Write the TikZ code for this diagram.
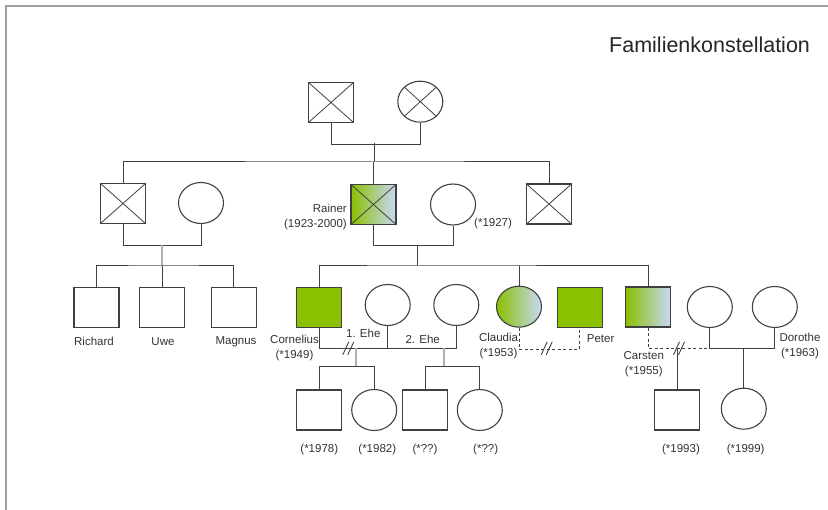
\documentclass[tikz,border=0pt]{standalone}
\usepackage{fontspec}
\setmainfont{Liberation Sans}
\usetikzlibrary{shapes.geometric}
\definecolor{ln}{HTML}{404040}
\definecolor{grn}{HTML}{8AC000}
\definecolor{blu}{HTML}{C8D8F8}
\definecolor{gline}{HTML}{B0B0B0}
\definecolor{txt}{HTML}{333333}
\definecolor{frame}{HTML}{A0A0A0}
\tikzset{
 person/.style={draw=ln, line width=1.1pt, inner sep=0pt},
 male/.style={person, rectangle, minimum width=45pt, minimum height=40pt},
 female/.style={person, ellipse, minimum width=45pt, minimum height=41pt},
 deceased/.style={path picture={\draw[ln, line width=0.8pt] (path picture bounding box.north west) -- (path picture bounding box.south east) (path picture bounding box.north east) -- (path picture bounding box.south west);}},
 affected/.style={fill=grn},
 partial/.style={left color=grn, right color=blu},
 conn/.style={draw=ln, line width=1pt},
 gconn/.style={draw=gline, line width=1.3pt},
 sep/.style={conn, dash pattern=on 3pt off 2.5pt},
 lbl/.style={text=txt, font=\fontsize{11.5}{15}\selectfont, inner sep=0pt, align=center},
 divorce/.pic={\draw[ln, line width=0.9pt] (-5.5,6.5) -- (0.5,-6.5) (-0.5,6.5) -- (5.5,-6.5);}
}
\begin{document}
\begin{tikzpicture}[x=1pt,y=-1pt]
\useasboundingbox (0,0) rectangle (828,510);
\draw[frame, line width=1.5pt] (6,510) -- (6,6) -- (828,6);
\node[font=\fontsize{21.5}{24}\selectfont, text=black!85, anchor=west, inner sep=0pt] (title) at (609,45) {Familienkonstellation};

% generation 1
\node[male,deceased] (gf) at (331,102.5) {};
\node[female,deceased] (gm) at (420.3,101.7) {};
\draw[conn] (gf.south) -- ++(0,21) -| (gm.south);
\coordinate (m1) at (374,143.5);
\coordinate (s1) at (374,162);
\draw[conn, line width=0.8pt] (m1) -- (s1);

% generation 2
\node[male,deceased] (u1) at (123,203.5) {};
\node[female] (a1) at (201,203) {};
\node[male,deceased,partial] (rainer) at (373.5,204.5) {};
\node[female] (wr) at (453,204.5) {};
\node[male,deceased] (u2) at (549,204) {};
\draw[conn] (u1.north) |- (s1) -| (u2.north);
\draw[conn] (rainer.north) -- (rainer.north |- s1);
\node[lbl, align=right, anchor=east] (rainerlbl) at (347,217) {Rainer\\(1923-2000)};
\node[lbl, anchor=west] (wrlbl) at (474,224) {(*1927)};

\draw[conn] (u1.south) -- ++(0,21.5) -| (a1.south);
\coordinate (m2) at (162,245);
\coordinate (s2) at (162,266);
\draw[gconn] (m2) -- (s2);
\draw[conn] (rainer.south) -- ++(0,20.5) -| (wr.south);
\coordinate (m3) at (417.3,245);
\coordinate (s3) at (417.3,266);
\draw[conn] (m3) -- (s3);

% generation 3 (cousins)
\node[male] (richard) at (96.5,307.3) {};
\node[male] (uwe) at (162,307.3) {};
\node[male] (magnus) at (233.7,307.3) {};
\draw[conn] (richard.north) |- (s2) -| (magnus.north);
\draw[conn] (uwe.north) -- (uwe.north |- s2);
\node[lbl] (richardlbl) at (94,341.7) {Richard};
\node[lbl] (uwelbl) at (163,341.7) {Uwe};
\node[lbl] (magnuslbl) at (236,341.7) {Magnus};

% generation 3 (Rainer's children)
\node[male,affected] (cornelius) at (319,307.3) {};
\node[female] (w1) at (387.7,305) {};
\node[female] (w2) at (456.3,305) {};
\node[female,partial] (claudia) at (519,306.7) {};
\node[male,affected] (peter) at (579.7,307.3) {};
\node[male,partial] (carsten) at (648.2,307) {};
\node[female] (p2) at (709.8,307) {};
\node[female] (dorothe) at (774.8,307) {};
\draw[conn] (cornelius.north) |- (s3) -| (carsten.north);
\draw[conn] (claudia.north) -- (claudia.north |- s3);

\node[lbl] (corlbl) at (294.5,348.5) {Cornelius\\(*1949)};
\node[lbl] (ehe1) at (363.3,333.3) {1. Ehe};
\node[lbl] (ehe2) at (422.7,339) {2. Ehe};
\node[lbl] (clalbl) at (498.5,346.5) {Claudia\\(*1953)};
\node[lbl, anchor=west] (peterlbl) at (586.7,339) {Peter};
\node[lbl] (carlbl) at (643.8,364) {Carsten\\(*1955)};
\node[lbl] (dorlbl) at (800,346.5) {Dorothe\\(*1963)};

% Cornelius marriages
\draw[conn] (cornelius.south) -- ++(0,21) -| (w2.south);
\coordinate (e1) at (388,348.3);
\draw[conn] (w1.south) -- (w1.south |- e1);
\pic at (348.3,348.3) {divorce};
\coordinate (m4) at (356,348.3);
\coordinate (s4) at (356,366.7);
\draw[gconn] (m4) -- (s4);
\coordinate (m5) at (444,348.3);
\coordinate (s5) at (444,366.7);
\draw[gconn] (m5) -- (s5);

% Claudia - Peter
\draw[sep] (claudia.south) -- ++(0,21.6) -| (peter.south);
\pic at (546.7,348.3) {divorce};

% Carsten
\coordinate (k1) at (709.8,348.3);
\draw[sep] (carsten.south) |- (k1);
\draw[conn] (p2.south) -- (k1) -| (dorothe.south);
\pic at (679,348.3) {divorce};

% generation 4
\node[male] (son1) at (319.2,410) {};
\node[female] (dau1) at (374.2,410) {};
\node[male] (son2) at (425.3,410) {};
\node[female] (dau2) at (479.8,410) {};
\node[male] (son3) at (677.2,410) {};
\node[female] (dau3) at (743.8,408.7) {};
\draw[conn] (son1.north) |- (s4) -| (dau1.north);
\draw[conn] (son2.north) |- (s5) -| (dau2.north);
\draw[conn] (son3.north) -- (son3.north |- k1);
\draw[conn] (dau3.north) -- (dau3.north |- k1);

\node[lbl] (son1lbl) at (319.3,450) {(*1978)};
\node[lbl] (dau1lbl) at (377.3,450) {(*1982)};
\node[lbl] (son2lbl) at (425,450) {(*??)};
\node[lbl] (dau2lbl) at (485.7,450) {(*??)};
\node[lbl] (son3lbl) at (681,450) {(*1993)};
\node[lbl] (dau3lbl) at (745.7,450) {(*1999)};
\end{tikzpicture}
\end{document}
